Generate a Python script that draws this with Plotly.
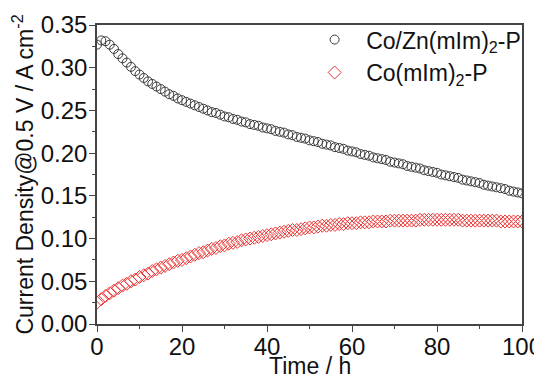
import plotly.graph_objects as go

time_h = list(range(0, 101))

co_zn = [0.327, 0.332, 0.331, 0.327, 0.322, 0.316, 0.311, 0.306, 0.301, 0.296,
         0.292, 0.288, 0.284, 0.281, 0.278, 0.275, 0.272, 0.269, 0.267, 0.264,
         0.262, 0.260, 0.258, 0.256, 0.254, 0.252, 0.250, 0.248, 0.247, 0.245,
         0.243, 0.242, 0.240, 0.239, 0.237, 0.236, 0.234, 0.233, 0.232, 0.230,
         0.229, 0.228, 0.226, 0.225, 0.224, 0.222, 0.221, 0.219, 0.218, 0.217,
         0.215, 0.214, 0.213, 0.211, 0.210, 0.209, 0.207, 0.206, 0.205, 0.203,
         0.202, 0.201, 0.199, 0.198, 0.197, 0.195, 0.194, 0.193, 0.192, 0.190,
         0.189, 0.188, 0.187, 0.185, 0.184, 0.183, 0.182, 0.180, 0.179, 0.178,
         0.177, 0.175, 0.174, 0.173, 0.172, 0.171, 0.169, 0.168, 0.167, 0.166,
         0.165, 0.163, 0.162, 0.161, 0.160, 0.159, 0.158, 0.156, 0.155, 0.154,
         0.153]

co_only = [0.025, 0.029, 0.033, 0.036, 0.039, 0.042, 0.045, 0.047, 0.050, 0.052,
           0.055, 0.057, 0.059, 0.062, 0.064, 0.066, 0.068, 0.070, 0.072, 0.074,
           0.075, 0.077, 0.079, 0.081, 0.083, 0.084, 0.086, 0.088, 0.089, 0.091,
           0.092, 0.094, 0.095, 0.096, 0.098, 0.099, 0.100, 0.101, 0.102, 0.103,
           0.104, 0.105, 0.106, 0.107, 0.108, 0.109, 0.110, 0.110, 0.111, 0.112,
           0.113, 0.113, 0.114, 0.115, 0.115, 0.116, 0.116, 0.117, 0.117, 0.118,
           0.118, 0.118, 0.119, 0.119, 0.119, 0.120, 0.120, 0.120, 0.120, 0.121,
           0.121, 0.121, 0.121, 0.121, 0.121, 0.121, 0.122, 0.122, 0.122, 0.122,
           0.122, 0.122, 0.122, 0.122, 0.122, 0.122, 0.121, 0.121, 0.121, 0.121,
           0.121, 0.121, 0.121, 0.121, 0.121, 0.120, 0.120, 0.120, 0.120, 0.120,
           0.120]

series_names = ["Co/Zn(mIm)<sub>2</sub>-P", "Co(mIm)<sub>2</sub>-P"]
x_ticks = [0, 20, 40, 60, 80, 100]
y_ticks = [0.00, 0.05, 0.10, 0.15, 0.20, 0.25, 0.30, 0.35]
x_title = "Time / h"
y_title = "Current Density@0.5 V / A cm<sup>-2</sup>"

FONT = "Liberation Sans, Arial, sans-serif"

fig = go.Figure()
fig.add_trace(go.Scatter(
    x=time_h, y=co_zn, mode="markers", name=series_names[0],
    marker=dict(symbol="circle-open", size=9, color="#3a3a3a", line=dict(width=1)),
))
fig.add_trace(go.Scatter(
    x=time_h, y=co_only, mode="markers", name=series_names[1],
    marker=dict(symbol="diamond-open", size=10, color="#ee3333", line=dict(width=1)),
))

axis_common = dict(
    showline=True, mirror=True, linecolor="#444", linewidth=1.5,
    ticks="outside", ticklen=6, tickwidth=1.2, tickcolor="#444",
    showgrid=False, zeroline=False,
    ticklabeloverflow="allow",
    tickfont=dict(family=FONT, size=24, color="#111"),
)

# the page body adds an 8px offset, so the figure is 534x368 placed at (8, 8)
fig.update_layout(
    width=534, height=368,
    margin=dict(l=89, r=20, t=17, b=52, autoexpand=False),
    paper_bgcolor="white", plot_bgcolor="white",
    font=dict(family=FONT, size=23, color="#111"),
    showlegend=True,
    legend=dict(
        x=0.485, y=1.023, xanchor="left", yanchor="top",
        bgcolor="rgba(0,0,0,0)", borderwidth=0,
        font=dict(family=FONT, size=23, color="#111"),
        itemwidth=53, tracegroupgap=0,
    ),
    xaxis=dict(
        range=[0, 100], tickvals=x_ticks, automargin=False,
        ticklabelstandoff=-6,
        minor=dict(ticks="outside", ticklen=3, tickcolor="#444", dtick=10, tick0=0),
        **axis_common,
    ),
    yaxis=dict(
        range=[0, 0.35], tickvals=y_ticks, tickformat=".2f", automargin=True,
        ticklabelstandoff=-3,
        minor=dict(ticks="outside", ticklen=3, tickcolor="#444", dtick=0.025, tick0=0),
        title=dict(text=y_title, font=dict(family=FONT, size=23), standoff=4),
        **axis_common,
    ),
    annotations=[dict(
        text=x_title, xref="paper", yref="paper", x=0.5, y=0,
        xanchor="center", yanchor="middle", yshift=-42, showarrow=False,
        font=dict(family=FONT, size=23, color="#111"),
    )],
)

fig.write_html("out.html")
